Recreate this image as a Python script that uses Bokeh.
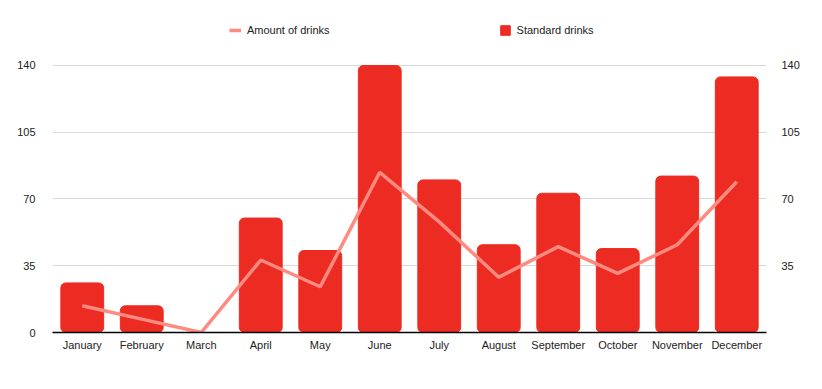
from bokeh.plotting import figure
from bokeh.models import Range1d, LinearAxis, FixedTicker, Legend, LegendItem, ColumnDataSource
from bokeh.embed import file_html
from bokeh.resources import INLINE

months = ["January", "February", "March", "April", "May", "June", "July",
          "August", "September", "October", "November", "December"]
standard_drinks = [26, 14, 0, 60, 43, 140, 80, 46, 73, 44, 82, 134]
amount_of_drinks = [14, 7, 0, 38, 24, 84, 58, 29, 45, 31, 46, 79]
y_ticks_left = [0, 35, 70, 105, 140]
y_ticks_right = [35, 70, 105, 140]

FONT = "Liberation Sans"
Y_TOP = 166.2  # headroom above 140 for the legend

src = ColumnDataSource(dict(m=months, bars=standard_drinks, line=amount_of_drinks))

p = figure(x_range=months, y_range=Range1d(0, Y_TOP), width=806, height=373,
           output_backend="svg", toolbar_location=None,
           min_border_left=52, min_border_right=40, min_border_top=15, min_border_bottom=41)
p.outline_line_color = None
p.extra_y_ranges = {"right": Range1d(0, Y_TOP)}

bars = p.vbar(x="m", top="bars", width=0.72, source=src, color="#ec2c22",
              border_radius=5)
ln = p.line(x="m", y="line", source=src, line_color="#ff8a80", line_width=3.5,
            y_range_name="right")

# axes
p.xaxis.major_tick_line_color = None
p.xaxis.minor_tick_line_color = None
p.xaxis.major_tick_out = 0
p.xaxis.major_tick_in = 0
p.xaxis.axis_line_color = "black"
p.xaxis.axis_line_width = 1.5
p.xaxis.major_label_text_font = FONT
p.xaxis.major_label_text_font_size = "11px"
p.xaxis.major_label_text_color = "#222222"
p.xaxis.major_label_standoff = 6

p.yaxis.ticker = FixedTicker(ticks=y_ticks_left)
p.yaxis.major_tick_line_color = None
p.yaxis.minor_tick_line_color = None
p.yaxis.axis_line_color = None
p.yaxis.major_label_text_font = FONT
p.yaxis.major_label_text_font_size = "11px"
p.yaxis.major_label_text_color = "#222222"
p.yaxis.major_label_standoff = 11

ra = LinearAxis(y_range_name="right", ticker=FixedTicker(ticks=y_ticks_right))
ra.major_tick_line_color = None
ra.minor_tick_line_color = None
ra.axis_line_color = None
ra.major_label_text_font = FONT
ra.major_label_text_font_size = "11px"
ra.major_label_text_color = "#222222"
ra.major_label_standoff = 9
p.add_layout(ra, "right")

p.xgrid.grid_line_color = None
p.ygrid.ticker = FixedTicker(ticks=y_ticks_left)
p.ygrid.grid_line_color = "#d9d9d9"

legend = Legend(items=[LegendItem(label="Amount of drinks", renderers=[ln]),
                       LegendItem(label="Standard drinks", renderers=[bars])],
                orientation="horizontal", location=(177, 296),
                spacing=169, glyph_width=12, glyph_height=12,
                label_text_font=FONT, label_text_font_size="11px",
                label_text_color="#222222", border_line_color=None,
                background_fill_alpha=0, padding=0, margin=0, label_standoff=6,
                label_height=12)
p.add_layout(legend, "center")

open("out.html", "w").write(file_html(p, INLINE))
